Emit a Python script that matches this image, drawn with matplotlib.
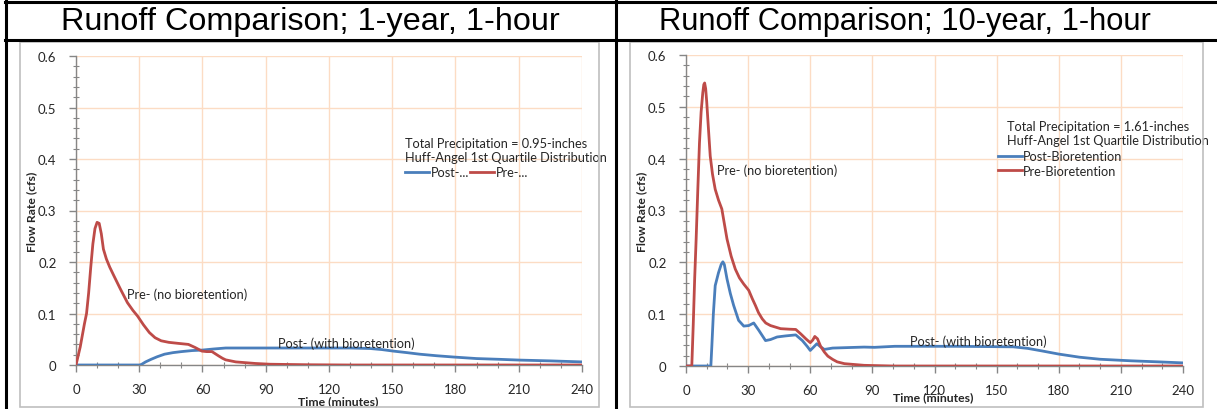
import matplotlib
matplotlib.use("Agg")
import matplotlib.pyplot as plt
from matplotlib.lines import Line2D
from matplotlib.ticker import MultipleLocator, FuncFormatter

# ---------------- data ----------------
titles = ["Runoff Comparison; 1-year, 1-hour", "Runoff Comparison; 10-year, 1-hour"]
precip_labels = ["Total Precipitation = 0.95-inches", "Total Precipitation = 1.61-inches"]
dist_label = "Huff-Angel 1st Quartile Distribution"
legend_labels_1 = ["Post-...", "Pre-..."]
legend_labels_10 = ["Post-Bioretention", "Pre-Bioretention"]
x_ticks = [0, 30, 60, 90, 120, 150, 180, 210, 240]
y_ticks = [0, 0.1, 0.2, 0.3, 0.4, 0.5, 0.6]

# 1-year storm
pre1_t = [0, 2, 4, 5, 6, 7, 8, 9, 10, 11, 12, 13, 14.4, 16, 18, 21, 24.4, 27, 29.2, 32,
          34.8, 37.5, 40.4, 44, 48.5, 53.3, 56.5, 59.7, 62, 64.5, 66, 67.7, 69.5, 71,
          75.8, 85, 92, 110, 130, 240]
pre1_q = [0, 0.035, 0.08, 0.1, 0.14, 0.19, 0.235, 0.265, 0.277, 0.275, 0.255, 0.225,
          0.206, 0.19, 0.173, 0.148, 0.121, 0.106, 0.095, 0.078, 0.063, 0.053, 0.047,
          0.044, 0.042, 0.040, 0.034, 0.027, 0.026, 0.026, 0.022, 0.0175, 0.013, 0.01,
          0.006, 0.003, 0.0015, 0.0005, 0, 0]
post1_t = [0, 30, 31, 33, 35.6, 38.5, 42, 46, 50, 55, 60, 65, 71, 100, 130, 139.5, 145,
           150.5, 157, 163, 171, 179, 190, 201, 210.6, 225, 240]
post1_q = [0, 0, 0.001, 0.006, 0.011, 0.016, 0.021, 0.024, 0.026, 0.028, 0.029, 0.031,
           0.033, 0.033, 0.033, 0.032, 0.030, 0.027, 0.024, 0.021, 0.018, 0.0155, 0.0125,
           0.011, 0.0095, 0.008, 0.006]

# 10-year storm
pre10_t = [0, 2.8, 3.5, 4.2, 4.9, 5.7, 6.5, 7.3, 8.1, 8.6, 9.0, 9.5, 10, 10.8, 11.7,
           12.8, 14.1, 15.7, 17.3, 18.5, 19.8, 21.8, 23.8, 25.8, 27.9, 30.3, 32, 33.5,
           35, 36.8, 38.5, 40.8, 45.7, 50, 53, 55.4, 58, 60, 61.2, 62.2, 63.5, 65,
           66.8, 68.5, 70.8, 73, 76.5, 86, 100, 240]
pre10_q = [0, 0, 0.08, 0.17, 0.245, 0.34, 0.43, 0.49, 0.527, 0.543, 0.546, 0.535, 0.51,
           0.46, 0.405, 0.37, 0.341, 0.32, 0.303, 0.275, 0.245, 0.212, 0.187, 0.17,
           0.158, 0.146, 0.13, 0.117, 0.103, 0.091, 0.083, 0.078, 0.072, 0.071, 0.0705,
           0.062, 0.052, 0.045, 0.05, 0.057, 0.0525, 0.038, 0.027, 0.019, 0.0128,
           0.008, 0.0045, 0.0013, 0, 0]
post10_t = [0, 12, 12.5, 13.2, 14.1, 15.7, 17, 17.8, 18.5, 19.8, 21.4, 23, 25.4, 27.9,
            30.3, 32.7, 35.2, 38.4, 40.8, 44, 48, 53, 56.2, 58.5, 60, 61.5, 63.2, 65,
            66.8, 70.8, 86, 91, 100.8, 130, 158, 165, 172, 180, 190, 200, 215, 228, 240]
post10_q = [0, 0, 0.04, 0.1, 0.155, 0.18, 0.196, 0.201, 0.196, 0.168, 0.14, 0.117, 0.088,
            0.077, 0.078, 0.083, 0.0686, 0.049, 0.051, 0.056, 0.058, 0.060, 0.049, 0.038,
            0.030, 0.036, 0.043, 0.037, 0.032, 0.0346, 0.0365, 0.036, 0.038, 0.038,
            0.037, 0.034, 0.029, 0.023, 0.017, 0.013, 0.010, 0.008, 0.006]

BLUE = "#4A7EBB"
RED = "#BE4B48"
GRID = "#FCDCC4"
AXC = "#868686"
TXT = "#262626"
FONT = "Lato"
FS = 9.2

W, H = 1217, 410
fig = plt.figure(figsize=(W / 100, H / 100), dpi=100)

def px_box(x0, y0, x1, y1):
    return [x0 / W, 1 - y1 / H, (x1 - x0) / W, (y1 - y0) / H]

def hline(y, x0, x1, **kw):
    fig.add_artist(Line2D([x0 / W, x1 / W], [1 - y / H, 1 - y / H], transform=fig.transFigure, **kw))
def vline(x, y0, y1, **kw):
    fig.add_artist(Line2D([x / W, x / W], [1 - y0 / H, 1 - y1 / H], transform=fig.transFigure, **kw))

for x0, x1 in [(20, 599), (630, 1203)]:
    fig.add_artist(plt.Rectangle((x0 / W, 1 - 408 / H), (x1 - x0) / W, (408 - 43) / H,
                                 transform=fig.transFigure, fill=False, ec="#BFBFBF", lw=1.2))
hline(3, 5, 1217, color="black", lw=2.2)
hline(41, 5, 1217, color="black", lw=2.2)
vline(6, 2, 410, color="black", lw=2.2)
vline(616, 2, 410, color="black", lw=2.2)

fig.text(310 / W, 1 - 22 / H, titles[0], ha="center", va="center", fontsize=23.3,
         family="Liberation Sans", color="black")
fig.text(905 / W, 1 - 22 / H, titles[1], ha="center", va="center", fontsize=22.2,
         family="Liberation Sans", color="black")

panels = [
    dict(box=px_box(76, 57, 582, 366), pre=(pre1_t, pre1_q), post=(post1_t, post1_q),
         precip=precip_labels[0], labels=legend_labels_1, ncol=2,
         info_xy=(156, 0.417), leg_xy=(156, 0.386),
         pre_txt=(24.2, 0.138), post_txt=(96, 0.043), xlab=(0.518, -0.097), ylab=-0.077),
    dict(box=px_box(686, 56, 1183, 367), pre=(pre10_t, pre10_q), post=(post10_t, post10_q),
         precip=precip_labels[1], labels=legend_labels_10, ncol=1,
         info_xy=(155, 0.449), leg_xy=(150.5, 0.416),
         pre_txt=(15, 0.378), post_txt=(108, 0.049), xlab=(0.497, -0.081), ylab=-0.078),
]

for p in panels:
    ax = fig.add_axes(p["box"])
    ax.set_xlim(0, 240)
    ax.set_ylim(0, 0.6)
    ax.set_xticks(x_ticks)
    ax.set_yticks(y_ticks)
    ax.xaxis.set_minor_locator(MultipleLocator(10))
    ax.yaxis.set_minor_locator(MultipleLocator(0.02))
    ax.yaxis.set_major_formatter(FuncFormatter(lambda v, _: "0" if abs(v) < 1e-9 else f"{v:.1f}"))
    ax.grid(True, which="major", color=GRID, lw=1.0, zorder=0)
    for s in ["top", "right"]:
        ax.spines[s].set_visible(False)
    for s in ["left", "bottom"]:
        ax.spines[s].set_color(AXC)
        ax.spines[s].set_linewidth(1.0)
    ax.tick_params(which="major", length=5, color=AXC, direction="out", width=1,
                   labelsize=9.5, labelcolor=TXT)
    ax.tick_params(which="minor", length=4, color=AXC, direction="inout", width=0.8)
    ax.tick_params(axis="x", which="major", pad=8)
    ax.tick_params(axis="y", which="major", pad=9)
    for lab in ax.get_xticklabels() + ax.get_yticklabels():
        lab.set_family(FONT)

    ax.plot(*p["post"], color=BLUE, lw=2.0, zorder=3, solid_joinstyle="round")
    ax.plot(*p["pre"], color=RED, lw=2.0, zorder=4, solid_joinstyle="round")

    ax.set_xlabel("Time (minutes)", fontsize=8.8, fontweight="bold", family=FONT, color=TXT)
    ax.xaxis.set_label_coords(*p["xlab"])
    ax.set_ylabel("Flow Rate (cfs)", fontsize=8.8, fontweight="bold", family=FONT, color=TXT)
    ax.yaxis.set_label_coords(p["ylab"], 0.5)

    ax.text(p["info_xy"][0], p["info_xy"][1], p["precip"] + "\n" + dist_label,
            fontsize=FS, family=FONT, color=TXT, va="center", ha="left", linespacing=1.2)
    handles = [Line2D([], [], color=BLUE, lw=2.0), Line2D([], [], color=RED, lw=2.0)]
    ax.legend(handles, p["labels"], ncol=p["ncol"], loc="upper left",
              bbox_to_anchor=p["leg_xy"], bbox_transform=ax.transData, frameon=False,
              prop=dict(family=FONT, size=FS), handlelength=1.9, handletextpad=0.1,
              columnspacing=0.1, labelspacing=0.2, borderpad=0, borderaxespad=0,
              labelcolor=TXT)

    ax.text(p["pre_txt"][0], p["pre_txt"][1], "Pre- (no bioretention)", fontsize=FS,
            family=FONT, color=TXT, va="center", ha="left")
    ax.text(p["post_txt"][0], p["post_txt"][1], "Post- (with bioretention)", fontsize=FS,
            family=FONT, color=TXT, va="center", ha="left")

fig.savefig("out.png", dpi=100)
